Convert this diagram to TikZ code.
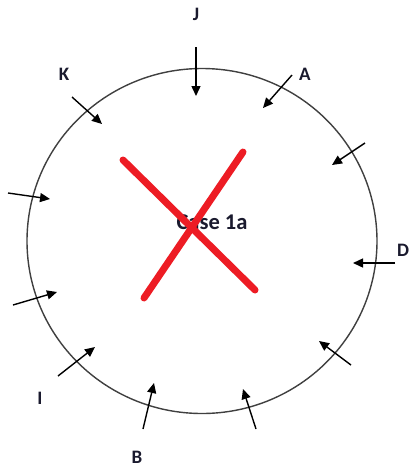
\documentclass[tikz,border=0pt]{standalone}
\usepackage{fontspec}
\setmainfont{Carlito}
\usetikzlibrary{arrows.meta}
\definecolor{xred}{HTML}{ED1C24}
\definecolor{txt}{HTML}{1A1A2E}
\tikzset{
  inarrow/.style={line width=1.4pt, black, -{Triangle[length=10pt,width=9pt]}},
  lbl/.style={font=\fontsize{19}{19}\selectfont\bfseries, text=txt, inner sep=0pt},
  cross/.style={line width=7pt, xred, line cap=round},
}
\begin{document}
\begin{tikzpicture}[x=1pt,y=-1pt]
\useasboundingbox (0,0) rectangle (410,467);
\fill[white] (0,0) rectangle (410,467);
% circle
\draw[line width=1.4pt, black!75] (202,241) ellipse [x radius=175, y radius=172.5];
% arrow coordinates
\coordinate (jt) at (196,47);  \coordinate (jh) at (196,96);
\coordinate (kt) at (72,97);   \coordinate (kh) at (102,124);
\coordinate (at) at (292,75);  \coordinate (ah) at (263,108);
\coordinate (rt) at (365,143); \coordinate (rh) at (332,165);
\coordinate (dt) at (395,263); \coordinate (dh) at (353,263);
\coordinate (l1t) at (8,193);  \coordinate (l1h) at (50,199);
\coordinate (l2t) at (13,305); \coordinate (l2h) at (57,292);
\coordinate (it) at (58,376);  \coordinate (ih) at (95,347);
\coordinate (bt) at (143,429); \coordinate (bh) at (154,383);
\coordinate (ct) at (256,429); \coordinate (ch) at (243,389);
\coordinate (et) at (351,365); \coordinate (eh) at (319,341);
\foreach \a in {j,k,a,r,d,l1,l2,i,b,c,e}
  \draw[inarrow] (\a t) -- (\a h);
% labels
\node[lbl] (J) at (196,14) {J};
\node[lbl] (K) at (64,74) {K};
\node[lbl] (A) at (305,74) {A};
\node[lbl] (D) at (403,250) {D};
\node[lbl] (I) at (40,398) {I};
\node[lbl] (B) at (137,457) {B};
% case label
\node[font=\fontsize{22.5}{22.5}\selectfont\bfseries, text=txt, inner sep=0pt] (case) at (212,222) {Case 1a};
% red cross
\coordinate (x1a) at (123,160); \coordinate (x1b) at (255,290);
\coordinate (x2a) at (243,152); \coordinate (x2b) at (144,298);
\draw[cross] (x1a) -- (x1b);
\draw[cross] (x2a) -- (x2b);
\end{tikzpicture}
\end{document}
